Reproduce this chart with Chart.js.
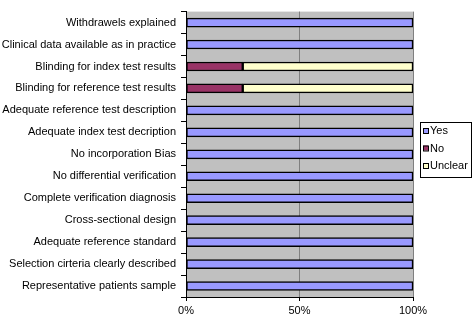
<!DOCTYPE html>
<html>
<head>
<meta charset="utf-8">
<script src="https://cdn.jsdelivr.net/npm/chart.js@4"></script>
<style>
  html, body { margin: 0; padding: 0; background: #fff; }
  #wrap { width: 473px; height: 314px; }
</style>
</head>
<body>
<div id="wrap"><canvas id="qualityChart"></canvas></div>
<script>
'use strict';

const CRITERIA = [
  'Withdrawels explained',
  'Clinical data available as in practice',
  'Blinding for index test results',
  'Blinding for reference test results',
  'Adequate reference test description',
  'Adequate index test decription',
  'No incorporation Bias',
  'No differential verification',
  'Complete verification diagnosis',
  'Cross-sectional design',
  'Adequate reference standard',
  'Selection cirteria clearly described',
  'Representative patients sample',
];
const YES     = [100, 100, 0, 0, 100, 100, 100, 100, 100, 100, 100, 100, 100];
const NO      = [0, 0, 25, 25, 0, 0, 0, 0, 0, 0, 0, 0, 0];
const UNCLEAR = [0, 0, 75, 75, 0, 0, 0, 0, 0, 0, 0, 0, 0];
const X_TICKS = [0, 50, 100];

const FONT = { family: '"Liberation Sans", Arial, sans-serif', size: 11 };

// grey plot area like the old excel charts
const plotBg = {
  id: 'plotBg',
  beforeDraw(chart) {
    const { ctx, chartArea: a } = chart;
    ctx.save();
    ctx.fillStyle = '#c0c0c0';
    ctx.fillRect(a.left, a.top, a.right - a.left, a.bottom - a.top);
    ctx.restore();
  },
};

// boxed legend on the right
const boxLegend = {
  id: 'boxLegend',
  afterDraw(chart) {
    const { ctx } = chart;
    const x = 420.5, y = 122.5, w = 51, h = 55;
    ctx.save();
    ctx.strokeStyle = '#000';
    ctx.lineWidth = 1;
    ctx.strokeRect(x, y, w, h);
    ctx.font = FONT.size + 'px ' + FONT.family;
    ctx.textBaseline = 'middle';
    chart.data.datasets.forEach((ds, i) => {
      const cy = 131 + i * 17.5;
      ctx.fillStyle = ds.backgroundColor;
      ctx.fillRect(423, cy - 3, 5, 5);
      ctx.strokeStyle = '#000';
      ctx.strokeRect(423.5, cy - 2.5, 5, 5);
      ctx.fillStyle = '#000';
      ctx.fillText(ds.label, 430, cy);
    });
    ctx.restore();
  },
};

const mkSet = (label, data, color) => ({
  label,
  data,
  backgroundColor: color,
  borderColor: '#000',
  borderWidth: 1.5,
  borderSkipped: false,
  barThickness: 9,
});

new Chart(document.getElementById('qualityChart'), {
  type: 'bar',
  data: {
    labels: CRITERIA,
    datasets: [
      mkSet('Yes', YES, '#9999ff'),
      mkSet('No', NO, '#993366'),
      mkSet('Unclear', UNCLEAR, '#ffffcc'),
    ],
  },
  options: {
    indexAxis: 'y',
    responsive: true,
    maintainAspectRatio: false,
    animation: false,
    layout: { padding: { top: 0, right: 60, bottom: 0, left: 0 } },
    plugins: { legend: { display: false }, tooltip: { enabled: false } },
    scales: {
      x: {
        stacked: true,
        min: 0,
        max: 100,
        afterBuildTicks: s => { s.ticks = X_TICKS.map(v => ({ value: v })); },
        afterFit: s => { s.height = 17; },
        grid: { color: '#808080', tickColor: '#000', tickLength: 4 },
        border: { color: '#000', width: 1 },
        ticks: { color: '#000', font: FONT, padding: 3, maxRotation: 0, callback: v => v + '%' },
      },
      y: {
        stacked: true,
        afterFit: s => { s.width = 186; },
        grid: { drawOnChartArea: false, offset: true, tickColor: '#000', tickLength: 5 },
        border: { color: '#000', width: 1 },
        ticks: { color: '#000', font: FONT, padding: 5, autoSkip: false },
      },
    },
  },
  plugins: [plotBg, boxLegend],
});
</script>
</body>
</html>
